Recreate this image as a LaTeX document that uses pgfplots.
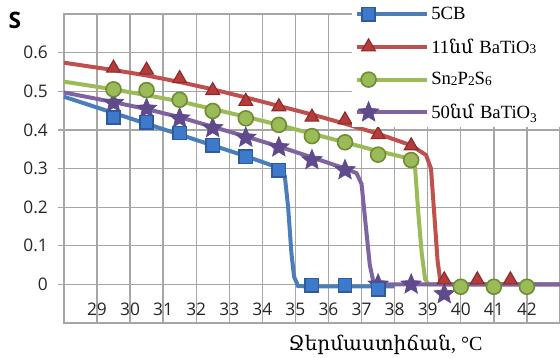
\documentclass[border=0pt]{standalone}
\usepackage{pgfplots}
\pgfplotsset{compat=1.18}
\usepackage{fontspec}
\setmainfont{Liberation Serif}
\newfontfamily\armfont{DejaVu Serif}
\newfontfamily\tickfont{Open Sans}
\usetikzlibrary{plotmarks}
\definecolor{gridgray}{HTML}{A6A6A6}
\definecolor{cblue}{HTML}{4A7EBB}
\definecolor{cbluefill}{HTML}{3D7ACB}
\definecolor{cblueedge}{HTML}{2D5B9B}
\definecolor{cred}{HTML}{C0504D}
\definecolor{credfill}{HTML}{B43C3C}
\definecolor{crededge}{HTML}{8C2A2A}
\definecolor{cgreen}{HTML}{9BBB59}
\definecolor{cgreenedge}{HTML}{6E8C34}
\definecolor{cpurple}{HTML}{8064A2}
\definecolor{cpurplefill}{HTML}{5F4B8B}
\newcommand{\lsub}[1]{\raisebox{-0.05ex}{\fontsize{10}{10}\selectfont #1}}
\newcommand{\rsub}[1]{\raisebox{-0.45ex}{\fontsize{10}{10}\selectfont #1}}
\pgfdeclareplotmark{fstar}{%
 \pgfpathmoveto{\pgfpointpolar{90}{\pgfplotmarksize}}%
 \pgfpathlineto{\pgfpointpolar{126}{0.45\pgfplotmarksize}}%
 \pgfpathlineto{\pgfpointpolar{162}{\pgfplotmarksize}}%
 \pgfpathlineto{\pgfpointpolar{198}{0.45\pgfplotmarksize}}%
 \pgfpathlineto{\pgfpointpolar{234}{\pgfplotmarksize}}%
 \pgfpathlineto{\pgfpointpolar{270}{0.45\pgfplotmarksize}}%
 \pgfpathlineto{\pgfpointpolar{306}{\pgfplotmarksize}}%
 \pgfpathlineto{\pgfpointpolar{342}{0.45\pgfplotmarksize}}%
 \pgfpathlineto{\pgfpointpolar{18}{\pgfplotmarksize}}%
 \pgfpathlineto{\pgfpointpolar{54}{0.45\pgfplotmarksize}}%
 \pgfpathclose
 \pgfusepathqfillstroke
}
\begin{document}
\begin{tikzpicture}
\path[use as bounding box] (-47.9pt,-25.5pt) rectangle (372pt,242.25pt);
\begin{axis}[
  at={(0,0)}, anchor=south west,
  scale only axis, width=372pt, height=231.75pt,
  xmin=28, xmax=43, ymin=-0.1, ymax=0.7,
  xtick={29,30,...,42},
  xticklabels={29,30,31,32,33,34,35,36,37,38,39,40,41,42},
  ytick={0,0.1,0.2,0.3,0.4,0.5,0.6},
  yticklabels={0,0.1,0.2,0.3,0.4,0.5,0.6},
  grid=major,
  grid style={draw=gridgray, line width=1pt},
  axis line style={draw=gridgray, line width=1pt},
  tick align=outside, major tick length=4.5pt,
  xtick style={draw=none},
  ytick style={draw=gridgray, line width=1pt},
  tick label style={font=\tickfont\fontsize{13}{15}\selectfont, text=black!85},
  xticklabel style={anchor=base, yshift=10pt},
  yticklabel style={xshift=-4pt},
  clip=false,
  legend style={at={(rel axis cs:0.58,1)}, anchor=north west, yshift=10.5pt,
    draw=none, fill=white, font=\fontsize{14}{17}\selectfont,
    inner xsep=2pt, inner ysep=3pt, row sep=9pt,
    legend cell align=left, text width=100pt},
  legend image code/.code={
    \path (0pt,0pt) -- (52.5pt,0pt);
    \draw[#1,mark=none] (4pt,0pt) -- (43pt,0pt);
    \draw[#1,only marks] plot coordinates {(9pt,0pt)};
  },
]
% lines
\addplot[cblue, line width=3pt, mark=none, forget plot] coordinates {
(28,0.486) (29.5,0.444) (30.5,0.416) (31.5,0.388) (32.5,0.36) (33.5,0.332) (34.5,0.302)
(34.68,0.28) (34.78,0.20) (34.88,0.08) (34.96,0.02) (35.08,-0.004) (35.3,-0.005) (38,-0.005)};
\addplot[cred, line width=3pt, mark=none, forget plot] coordinates {
(28,0.574) (29.5,0.555) (30.5,0.541) (31.5,0.524) (32.5,0.505) (33.5,0.484) (34.5,0.462)
(35.5,0.44) (36.5,0.416) (37.5,0.39) (38.5,0.36) (38.95,0.335) (39.1,0.30) (39.2,0.18)
(39.3,0.06) (39.38,0.01) (39.5,0) (43,0)};
\addplot[cgreen, line width=3pt, mark=none, forget plot] coordinates {
(28,0.525) (29.5,0.505) (30.5,0.49) (31.5,0.474) (32.5,0.454) (33.5,0.434) (34.5,0.413)
(35.5,0.39) (36.5,0.368) (37.5,0.345) (38.5,0.325) (38.62,0.30) (38.72,0.18) (38.82,0.08)
(38.92,0.015) (39.02,0) (43,0)};
\addplot[cpurple, line width=3pt, mark=none, forget plot] coordinates {
(28,0.497) (29.5,0.472) (30.5,0.454) (31.5,0.433) (32.5,0.408) (33.5,0.383) (34.5,0.357)
(35.5,0.329) (36.5,0.30) (36.85,0.288) (37.0,0.26) (37.13,0.15) (37.25,0.05) (37.35,0.01)
(37.5,0) (43,0)};
% markers
\addplot[only marks, mark=fstar, mark size=8pt,
  mark options={fill=cpurplefill, draw=cpurplefill, line width=0.5pt}, forget plot] coordinates {
(29.5,0.47) (30.5,0.455) (31.5,0.43) (32.5,0.405) (33.5,0.38) (34.5,0.355) (35.5,0.322)
(36.5,0.296) (37.5,0.0) (38.5,0.0) (39.5,-0.025)};
\addplot[only marks, mark=triangle*, mark size=6pt,
  mark options={fill=credfill, draw=crededge, line width=0.8pt}, forget plot] coordinates {
(29.5,0.56) (30.5,0.555) (31.5,0.533) (32.5,0.502) (33.5,0.474) (34.5,0.46) (35.5,0.433)
(36.5,0.426) (37.5,0.388) (38.5,0.359) (39.5,0.012) (40.5,0.012) (41.5,0.012)};
\addplot[only marks, mark=*, mark size=5.6pt,
  mark options={fill=cgreen, draw=cgreenedge, line width=1.2pt}, forget plot] coordinates {
(29.5,0.505) (30.5,0.503) (31.5,0.478) (32.5,0.449) (33.5,0.43) (34.5,0.413) (35.5,0.384)
(36.5,0.368) (37.5,0.336) (38.5,0.322) (40,-0.006) (41,-0.006) (42,-0.006)};
\addplot[only marks, mark=square*, mark size=5pt,
  mark options={fill=cbluefill, draw=cblueedge, line width=1.2pt}, forget plot] coordinates {
(29.5,0.432) (30.5,0.42) (31.5,0.392) (32.5,0.36) (33.5,0.33) (34.5,0.296)
(35.5,-0.002) (36.5,-0.002) (37.5,-0.012)};
% legend
\addlegendimage{cblue, line width=3pt, mark=square*, mark size=5pt, mark options={fill=cbluefill, draw=cblueedge, line width=1.2pt}}
\addlegendentry{5CB}
\addlegendimage{cred, line width=3pt, mark=triangle*, mark size=6pt, mark options={fill=credfill, draw=crededge, line width=0.8pt}}
\addlegendentry{11{\armfont նմ} BaTiO\lsub{3}}
\addlegendimage{cgreen, line width=3pt, mark=*, mark size=5.6pt, mark options={fill=cgreen, draw=cgreenedge, line width=1.2pt}}
\addlegendentry{Sn\lsub{2}P\lsub{2}S\lsub{6}}
\addlegendimage{cpurple, line width=3pt, mark=fstar, mark size=8pt, mark options={fill=cpurplefill, draw=cpurplefill, line width=0.5pt}}
\addlegendentry{50{\armfont նմ} BaTiO\rsub{3}}
% labels
\node[font=\fontspec{Open Sans Bold}\fontsize{17}{17}\selectfont, anchor=center] at (axis cs:26.52,0.683) {S};
\node[font=\fontsize{15}{17}\selectfont, anchor=base] at (rel axis cs:0.648,0) [yshift=-20.5pt] {{\armfont Ջերմաստիճան}, °C};
\end{axis}
\end{tikzpicture}
\end{document}
